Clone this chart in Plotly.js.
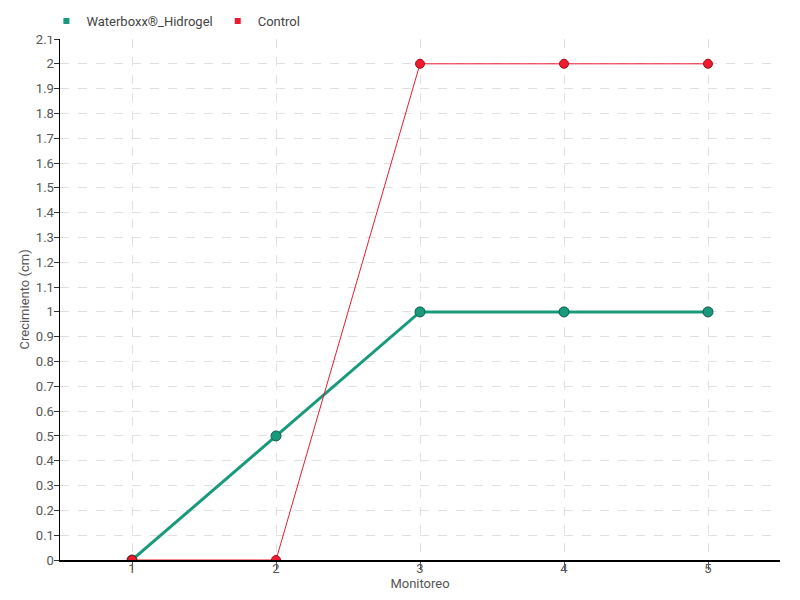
<!DOCTYPE html>
<html>
<head>
<meta charset="utf-8">
<script src="https://cdn.plot.ly/plotly-3.0.1.min.js"></script>
<style>html,body{margin:0;padding:0;background:#fff;}#chart{width:800px;height:600px;}</style>
</head>
<body>
<div id="chart"></div>
<script>
const monitoreo = [1, 2, 3, 4, 5];
const waterboxx = [0, 0.5, 1, 1, 1];
const control = [0, 0, 2, 2, 2];
const seriesNames = ["Waterboxx®_Hidrogel", "Control"];
const colors = ["#1a9a7c", "#ee1b2e"];
const xTitle = "Monitoreo";
const yTitle = "Crecimiento (cm)";

const FONT = 'Roboto, sans-serif';

const traces = [
  {
    x: monitoreo, y: waterboxx, type: 'scatter', mode: 'lines+markers',
    name: seriesNames[0], showlegend: false,
    line: {color: colors[0], width: 3},
    marker: {color: colors[0], size: 10, line: {color: '#0f5e4b', width: 1}}
  },
  {
    x: monitoreo, y: control, type: 'scatter', mode: 'lines+markers',
    name: seriesNames[1], showlegend: false,
    line: {color: colors[1], width: 1},
    marker: {color: colors[1], size: 9, line: {color: '#a80d1c', width: 1}}
  },
  {
    x: [null], y: [null], type: 'scatter', mode: 'markers', name: seriesNames[0],
    marker: {color: colors[0], symbol: 'square', size: 6}
  },
  {
    x: [null], y: [null], type: 'scatter', mode: 'markers', name: seriesNames[1],
    marker: {color: colors[1], symbol: 'square', size: 6}
  }
];

const layout = {
  width: 800, height: 600,
  margin: {l: 60, r: 20, t: 39, b: 40, autoexpand: false},
  paper_bgcolor: '#fff', plot_bgcolor: '#fff',
  font: {family: FONT, size: 13, color: '#555'},
  showlegend: true,
  legend: {orientation: 'h', xref: 'container', yref: 'container',
           x: 0.058, xanchor: 'left', y: 0.965, yanchor: 'middle',
           font: {family: FONT, size: 13, color: '#444'}, itemwidth: 30, tracegroupgap: 0},
  xaxis: {
    range: [0.5, 5.5], dtick: 1, tick0: 1,
    showline: true, linecolor: '#000', linewidth: 1.5,
    ticks: 'outside', ticklen: 8, tickcolor: '#555', ticklabelstandoff: -12,
    showgrid: true, gridcolor: '#e0e0e0', griddash: 'dash',
    zeroline: false,
    title: {text: xTitle, standoff: 0, font: {family: FONT, size: 13, color: '#555'}},
    tickfont: {family: FONT, size: 13, color: '#555'}
  },
  yaxis: {
    range: [0, 2.1], dtick: 0.1, tick0: 0,
    showline: true, linecolor: '#000', linewidth: 1.5,
    ticks: 'outside', ticklen: 5, tickcolor: '#333', ticklabelstandoff: -3,
    showgrid: true, gridcolor: '#e0e0e0', griddash: 'dash',
    zeroline: false,
    tickfont: {family: FONT, size: 13, color: '#555'}
  },
  annotations: [{
    text: yTitle, textangle: -90, showarrow: false,
    xref: 'paper', yref: 'paper', x: -0.05, y: 0.5, xanchor: 'center', yanchor: 'middle',
    font: {family: FONT, size: 13, color: '#555'}
  }]
};

Plotly.newPlot('chart', traces, layout, {displayModeBar: false, staticPlot: true});
</script>
</body>
</html>
